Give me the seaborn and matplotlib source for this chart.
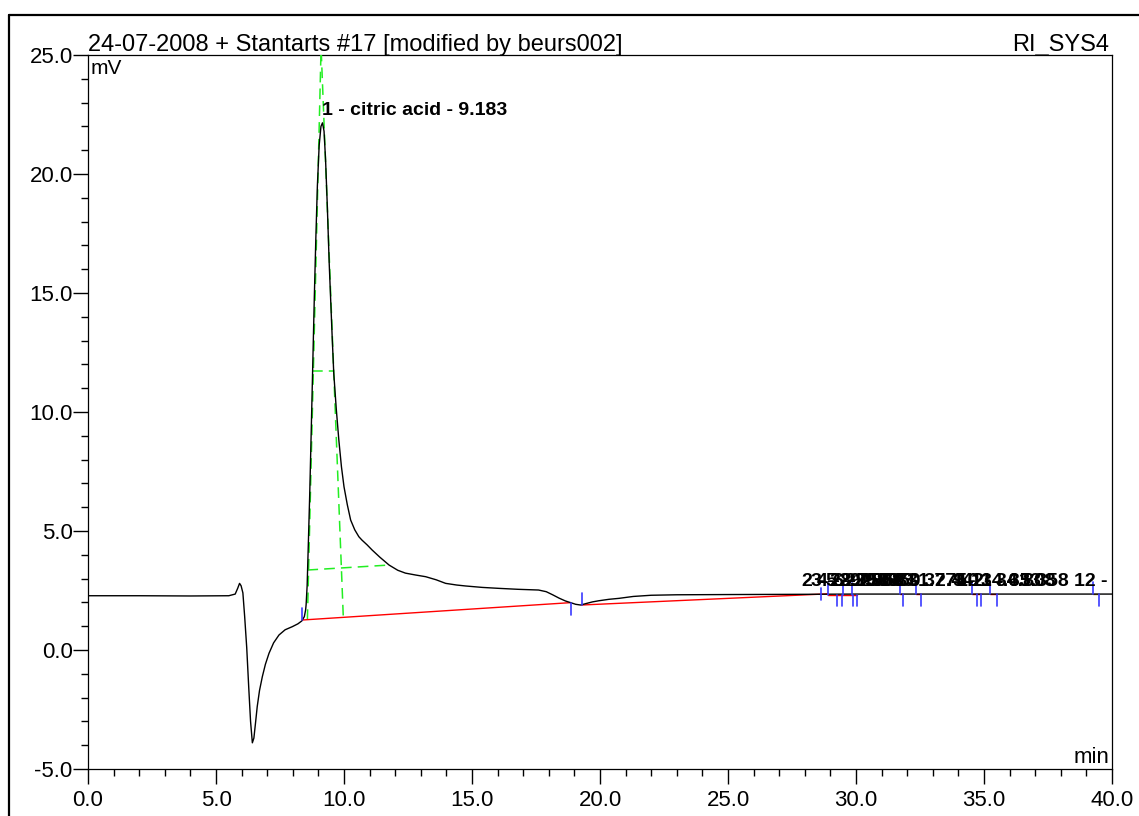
import numpy as np
import pandas as pd
import matplotlib
matplotlib.use("Agg")
import matplotlib.pyplot as plt
from matplotlib.ticker import MultipleLocator, FormatStrFormatter
from matplotlib.lines import Line2D
import seaborn as sns

# ---------------- data ----------------
time_min = [0.0, 2.0, 4.0, 5.5, 5.75, 5.85, 5.92, 5.98, 6.05, 6.12, 6.2, 6.28, 6.35, 6.42,
            6.48, 6.55, 6.61, 6.7, 6.81, 6.93, 7.07, 7.25, 7.46, 7.7, 7.98, 8.2, 8.35, 8.45,
            8.5, 8.52, 8.56, 8.6, 8.66, 8.72, 8.78, 8.84, 8.9, 8.96, 9.03, 9.1, 9.16, 9.22,
            9.28, 9.35, 9.42, 9.48, 9.54, 9.6, 9.7, 9.8, 9.9, 10.0, 10.13, 10.26, 10.42,
            10.58, 10.7, 10.9, 11.1, 11.4, 11.76, 12.1, 12.4, 12.8, 13.19, 13.6, 13.97,
            14.4, 14.75, 15.4, 16.05, 16.8, 17.6, 17.9, 18.15, 18.4, 18.65, 18.85, 19.05,
            19.24, 19.45, 19.7, 19.96, 20.35, 20.74, 21.3, 22.0, 23.0, 25.0, 28.0, 30.0,
            32.0, 35.0, 37.0, 40.0]
signal_mv = [2.28, 2.28, 2.27, 2.28, 2.35, 2.6, 2.8, 2.7, 2.4, 1.4, 0.1, -1.6, -3.0, -3.9,
             -3.7, -3.0, -2.38, -1.7, -1.12, -0.6, -0.14, 0.3, 0.63, 0.85, 0.98, 1.1, 1.22, 1.4,
             1.68, 1.9, 2.7, 4.2, 6.5, 9.2, 12.0, 14.8, 17.3, 19.5, 21.2, 22.0, 22.15, 21.8,
             20.6, 18.6, 16.3, 14.7, 13.1, 11.63, 10.1, 8.8, 7.7, 6.86, 6.1, 5.46, 5.05,
             4.76, 4.62, 4.42, 4.2, 3.9, 3.57, 3.35, 3.23, 3.15, 3.08, 2.95, 2.8,
             2.73, 2.69, 2.63, 2.59, 2.55, 2.52, 2.45, 2.32, 2.18, 2.06, 1.99, 1.92,
             1.89, 1.95, 2.02, 2.07, 2.13, 2.17, 2.25, 2.3, 2.32, 2.33, 2.34, 2.35,
             2.35, 2.35, 2.35, 2.35]

# integration baselines (start time, start mV, end time, end mV)
base_t0 = [8.37, 19.28, 28.9, 29.46, 31.7, 32.33, 34.52, 35.23, 39.24]
base_y0 = [1.26, 1.89, 2.33, 2.33, 2.34, 2.34, 2.34, 2.34, 2.35]
base_t1 = [18.85, 28.9, 29.46, 30.02, 31.85, 32.55, 34.88, 35.49, 39.5]
base_y1 = [1.99, 2.36, 2.33, 2.33, 2.34, 2.34, 2.34, 2.34, 2.35]
base_colors = ["#ff0000"] * 8 + ["#b8860b"]

# peak boundary markers
mark_up_t = [8.37, 19.28, 28.9, 29.5, 29.86, 31.7, 32.33, 34.52, 35.23, 39.24]
mark_up_y = [1.26, 1.89, 2.33, 2.33, 2.33, 2.34, 2.34, 2.34, 2.34, 2.35]
mark_dn_t = [18.85, 28.64, 29.24, 29.46, 29.87, 30.02, 31.85, 32.55, 34.74, 34.88, 35.49, 39.5]
mark_dn_y = [1.99, 2.6, 2.33, 2.33, 2.33, 2.33, 2.34, 2.34, 2.34, 2.34, 2.34, 2.35]

# tangent construction lines of peak 1
tan_x0 = [8.57, 9.97, 8.76, 8.57]
tan_y0 = [1.26, 1.45, 11.72, 3.36]
tan_x1 = [9.12, 9.08, 9.6, 11.76]
tan_y1 = [26.0, 26.0, 11.72, 3.57]

# peak labels
main_peak_label = "1 - citric acid - 9.183"
main_peak_t = 9.14
main_peak_y = 22.3
small_peak_num = [2, 3, 4, 5, 6, 7, 8, 9, 10, 11, 12]
small_peak_rt = [28.750, 29.083, 29.350, 29.683, 29.950, 31.775, 32.442, 34.633, 34.808, 35.358, 39.369]

title_left = "24-07-2008 + Stantarts #17 [modified by beurs002]"
title_right = "RI_SYS4"
x_unit = "min"
y_unit = "mV"

# ---------------- figure ----------------
sns.set_style("ticks")
plt.rcParams["font.family"] = ["Liberation Sans", "DejaVu Sans"]
plt.rcParams["text.color"] = "black"

W, H = 1139, 816
fig = plt.figure(figsize=(W / 100, H / 100), dpi=100)
ax = fig.add_axes([88 / W, (H - 769) / H, (1112 - 88) / W, (769 - 55) / H])

df = pd.DataFrame({"t": time_min, "mv": signal_mv})
sns.lineplot(data=df, x="t", y="mv", ax=ax, color="black", lw=1.0,
             sort=False, estimator=None, zorder=5)

for x0, y0, x1, y1, c in zip(base_t0, base_y0, base_t1, base_y1, base_colors):
    ax.plot([x0, x1], [y0, y1], color=c, lw=1.0, zorder=4)

mark_len = 0.5
for t, y in zip(mark_up_t, mark_up_y):
    ax.plot([t, t], [y, y + mark_len], color="#3a3aff", lw=1.2, zorder=6)
for t, y in zip(mark_dn_t, mark_dn_y):
    ax.plot([t, t], [y, y - mark_len], color="#3a3aff", lw=1.2, zorder=6)

for x0, y0, x1, y1 in zip(tan_x0, tan_y0, tan_x1, tan_y1):
    ax.plot([x0, x1], [y0, y1], color="#22ee22", lw=1.1, ls=(0, (7, 4)), zorder=3)

ax.text(main_peak_t, main_peak_y, main_peak_label, fontsize=14, fontweight="bold",
        ha="left", va="bottom", color="black", zorder=7)
label_shift = 0.86  # labels start a little before the apex time
for n, rt in zip(small_peak_num, small_peak_rt):
    ax.text(rt - label_shift, 2.5, f"{n} - {rt:.3f}", fontsize=14, fontweight="bold",
            ha="left", va="bottom", color="black", clip_on=True, zorder=7)

ax.set_xlim(0, 40)
ax.set_ylim(-5, 25)
ax.xaxis.set_major_locator(MultipleLocator(5))
ax.xaxis.set_minor_locator(MultipleLocator(1))
ax.yaxis.set_major_locator(MultipleLocator(5))
ax.yaxis.set_minor_locator(MultipleLocator(1))
ax.xaxis.set_major_formatter(FormatStrFormatter("%.1f"))
ax.yaxis.set_major_formatter(FormatStrFormatter("%.1f"))
ax.tick_params(axis="both", which="major", direction="out", length=11, width=1.0,
               color="black", labelsize=16, labelcolor="black")
ax.tick_params(axis="both", which="minor", direction="out", length=5, width=1.0, color="black")
ax.tick_params(axis="y", which="major", pad=0)
ax.tick_params(axis="x", which="major", pad=4)
ax.set_xlabel("")
ax.set_ylabel("")
for s in ax.spines.values():
    s.set_visible(True)
    s.set_color("black")
    s.set_linewidth(0.9)
ax.grid(False)

ax.annotate(title_left, xy=(0, 1), xycoords="axes fraction", xytext=(0, 3),
            textcoords="offset points", ha="left", va="baseline", fontsize=17, color="black")
ax.annotate(title_right, xy=(1, 1), xycoords="axes fraction", xytext=(-2, 3),
            textcoords="offset points", ha="right", va="baseline", fontsize=17, color="black")
ax.annotate(y_unit, xy=(0, 1), xycoords="axes fraction", xytext=(2, -3),
            textcoords="offset points", ha="left", va="top", fontsize=15, color="black")
ax.annotate(x_unit, xy=(1, 0), xycoords="axes fraction", xytext=(-2, 4),
            textcoords="offset points", ha="right", va="baseline", fontsize=16, color="black")

# outer frame of the printout
fig.add_artist(Line2D([9 / W, 9 / W], [0, 1 - 15 / H], transform=fig.transFigure,
                      color="black", lw=1.6))
fig.add_artist(Line2D([9 / W, 1], [1 - 15 / H, 1 - 15 / H], transform=fig.transFigure,
                      color="black", lw=1.6))

fig.savefig("out.png", dpi=100, facecolor="white")
